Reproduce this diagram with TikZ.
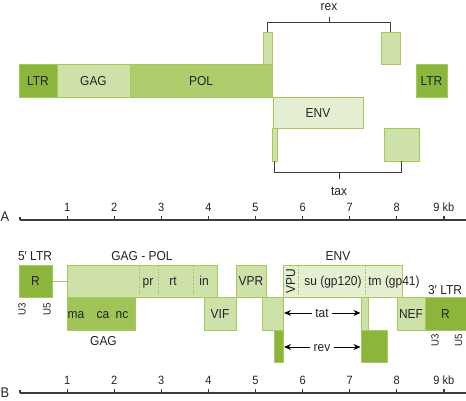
\documentclass[tikz,border=0pt]{standalone}
\usepackage{fontspec}
\setmainfont{Liberation Sans}[FakeStretch=0.92]
\usetikzlibrary{arrows.meta,positioning}
\definecolor{HVDark}{RGB}{140,181,60}
\definecolor{HVMid}{RGB}{176,205,110}
\definecolor{HVGag}{RGB}{160,196,88}
\definecolor{HVLight}{RGB}{206,225,168}
\definecolor{HVPale}{RGB}{229,239,210}
\definecolor{HVEdge}{RGB}{162,203,92}
\definecolor{HVInk}{RGB}{35,35,35}
\definecolor{HVAxis}{RGB}{60,60,60}
\tikzset{
  seg/.style   ={draw=HVEdge, line width=0.8pt, inner sep=0pt, outer sep=0pt,
                 anchor=north west, text=HVInk, text height=9.3pt, text depth=0pt,
                 font=\fontsize{13}{13}\selectfont},
  sz/.style 2 args={minimum width=#1pt, minimum height=#2pt},
  lbl/.style   ={text=HVInk, inner sep=1pt, font=\fontsize{13}{13}\selectfont},
  sub/.style   ={lbl, text height=9.3pt, text depth=0pt},
  num/.style   ={lbl, font=\fontsize{12}{12}\selectfont, anchor=base},
  tiny/.style  ={lbl, font=\fontsize{10.5}{10.5}\selectfont, rotate=90},
  panel/.style ={lbl, font=\fontsize{14}{14}\selectfont, anchor=base},
  divider/.style={draw=HVEdge, line width=0.7pt, dash pattern=on 2pt off 1.5pt},
  brack/.style ={draw=HVAxis, line width=1pt},
  axis/.style  ={draw=HVAxis, line width=1.2pt},
  span/.style  ={draw=black, line width=1pt, -{Stealth[length=7pt,width=6pt]}},
}

\begin{document}
\begin{tikzpicture}[x=1pt,y=-1pt, line join=miter]
\useasboundingbox (0,0) rectangle (466,400);

% --- Panel A: genome ---------------------------------------------------
\node[seg, sz={38}{33},  fill=HVDark]  (ltrA)  at (19,64)  {LTR};
\node[seg, sz={73}{33},  fill=HVLight] (gagA)  at (57,64)  {GAG};
\node[seg, sz={142}{33}, fill=HVMid]   (polA)  at (130,64) {POL};
\node[seg, sz={31}{33},  fill=HVDark]  (ltrA2) at (416,64) {LTR};

% rex exons
\node[seg, sz={9}{32},  fill=HVLight] (rexL) at (263,32) {};
\node[seg, sz={19}{32}, fill=HVLight] (rexR) at (381,32) {};

\node[seg, sz={90}{31}, fill=HVPale] (envA) at (273,97) {ENV};

% tax exons
\node[seg, sz={5}{33},  fill=HVLight] (taxL) at (272,128) {};
\node[seg, sz={35}{33}, fill=HVLight] (taxR) at (384,128) {};

% brackets
\draw[brack] (rexL.north) -- ++(0,-10) -| (rexR.north);
\coordinate (rexM) at (329,22);
\draw[brack] (rexM) -- ++(0,-5);
\node[lbl, anchor=base] (rexT) at (329,10) {rex};

\draw[brack] (taxL.south) -- ++(0,11) -| (taxR.south);
\coordinate (taxM) at (339,172);
\draw[brack] (taxM) -- ++(0,7);
\node[lbl, anchor=base] (taxT) at (339,195) {tax};

% --- Axis A --------------------------------------------------------------
\node[panel] (pA) at (5,221.5) {A};
\draw[axis] (20,220) -- (466,220);
\draw[axis] (20,220) -- ++(0,-3);
\foreach \k in {1,...,8} {
  \draw[axis] ({20+47.1*\k},220) -- ++(0,-4);
  \node[num] (ta\k) at ({20+47.1*\k},211) {\k};
}
\draw[axis] (443.9,220) -- ++(0,-4);
\node[num] (ta9) at (443.9,211) {9 kb};

% --- Panel B: 5' end -----------------------------------------------------
\node[lbl, anchor=base] (ltr5) at (35,260) {5′ LTR};
\node[seg, sz={33}{32}, fill=HVDark] (r5) at (19,265) {R};
\node[tiny] (u3a) at (22,309) {U3};
\node[tiny] (u5a) at (47,309) {U5};

\node[lbl, anchor=base] (gpT) at (142,260) {GAG - POL};
\node[seg, sz={150}{32}, fill=HVLight] (gagpol) at (67,265) {};
\draw[draw=HVEdge, line width=0.8pt] (r5) -- (gagpol);
\foreach \x in {139,158,193}
  \draw[divider] (\x,265) -- (\x,297);
\node[sub] (pr) at (148,281) {pr};
\node[sub] (rt) at (173,281) {rt};
\node[sub] (in) at (204,281) {in};

\node[seg, sz={68}{33}, fill=HVGag] (gagB) at (67,297) {};
\foreach \x in {87,118,127}
  \draw[divider] (\x,297) -- (\x,330);
\node[sub] (ma) at (76,313.5)  {ma};
\node[sub] (ca) at (103,313.5) {ca};
\node[sub] (nc) at (122,313.5) {nc};
\node[lbl, anchor=base] (gagT) at (103.5,345) {GAG};

\node[seg, sz={32}{33}, fill=HVLight] (vif) at (204,297) {VIF};
\node[seg, sz={30}{32}, fill=HVLight] (vpr) at (236,265) {VPR};

% --- Panel B: tat / rev / env -------------------------------------------
\node[seg, sz={21}{33}, fill=HVLight] (tat1) at (262,297) {};
\node[seg, sz={9}{32},  fill=HVDark]  (rev1) at (274,330) {};

\node[lbl, anchor=base] (envT) at (338,260) {ENV};
\node[seg, sz={119}{32}, fill=HVPale] (envB) at (283,265) {};
\foreach \x in {298,365}
  \draw[divider] (\x,265) -- (\x,297);
\node[sub, rotate=90] (vpu) at (290.5,281) {VPU};
\node[sub] (su) at (333,281) {su (gp120)};
\node[sub] (tm) at (394,281) {tm (gp41)};

\node[seg, sz={7}{33},  fill=HVLight] (tat2) at (361,297) {};
\node[seg, sz={26}{32}, fill=HVDark]  (rev2) at (361,330) {};

\node[sub, inner sep=3pt] (tat) at (322,313) {tat};
\coordinate (tatL) at (284,313);
\coordinate (tatR) at (360.5,313);
\draw[span] (tat) -- (tatL);
\draw[span] (tat) -- (tatR);

\node[sub, inner sep=3pt] (rev) at (322,347) {rev};
\coordinate (revL) at (284,347);
\coordinate (revR) at (360.5,347);
\draw[span] (rev) -- (revL);
\draw[span] (rev) -- (revR);

% --- Panel B: 3' end -----------------------------------------------------
\node[seg, sz={28}{33}, fill=HVLight] (nef) at (397,297) {NEF};
\node[seg, sz={41}{33}, fill=HVDark]  (r3)  at (425,297) {R};
\node[lbl, anchor=base] (ltr3) at (445,294) {3′ LTR};
\node[tiny] (u3b) at (435,340) {U3};
\node[tiny] (u5b) at (458.5,340) {U5};

% --- Axis B --------------------------------------------------------------
\node[panel] (pB) at (5,397) {B};
\draw[axis] (20,393) -- (466,393);
\draw[axis] (20,393) -- ++(0,-3);
\foreach \k in {1,...,8} {
  \draw[axis] ({20+47.1*\k},393) -- ++(0,-4);
  \node[num] (tb\k) at ({20+47.1*\k},384.3) {\k};
}
\draw[axis] (443.9,393) -- ++(0,-4);
\node[num] (tb9) at (443.9,384.3) {9 kb};

\end{tikzpicture}
\end{document}
